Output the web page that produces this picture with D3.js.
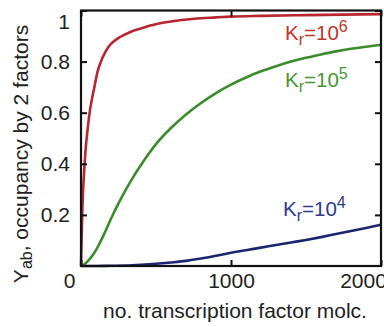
<!DOCTYPE html>
<html><head><meta charset="utf-8">
<script src="https://cdn.jsdelivr.net/npm/d3@7"></script>
<style>
body{margin:0;background:#fff;}
svg{display:block;font-family:"Liberation Sans",Arial,sans-serif;}
</style></head>
<body><svg id="c" width="384" height="327"></svg>
<script>
// data
const xRed = [0, 5, 10, 20, 30, 45, 60, 89, 110, 133, 160, 189, 220, 256, 300, 344, 400, 455, 520, 589, 670, 755, 900, 1000, 1200, 1500, 2000];
const yRed = [0, 0.13, 0.24, 0.36, 0.45, 0.54, 0.61, 0.70, 0.76, 0.80, 0.835, 0.862, 0.88, 0.895, 0.908, 0.92, 0.93, 0.94, 0.949, 0.956, 0.963, 0.968, 0.973, 0.976, 0.979, 0.982, 0.986];
const xGreen = [0, 25, 50, 75, 100, 125, 150, 200, 250, 300, 350, 400, 450, 500, 600, 700, 800, 900, 1000, 1100, 1200, 1300, 1400, 1500, 1600, 1700, 1800, 1900, 2000];
const yGreen = [0, 0.008, 0.022, 0.04, 0.062, 0.09, 0.12, 0.185, 0.245, 0.30, 0.35, 0.395, 0.438, 0.477, 0.54, 0.593, 0.638, 0.677, 0.71, 0.738, 0.762, 0.782, 0.80, 0.815, 0.828, 0.84, 0.85, 0.858, 0.866];
const xBlue = [0, 100, 200, 300, 400, 500, 600, 700, 800, 900, 1000, 1100, 1200, 1300, 1400, 1500, 1600, 1700, 1800, 1900, 2000];
const yBlue = [0, 0, 0.001, 0.002, 0.005, 0.009, 0.014, 0.02, 0.029, 0.04, 0.052, 0.062, 0.072, 0.082, 0.092, 0.102, 0.113, 0.125, 0.137, 0.149, 0.162];
const seriesExp = ["6", "5", "4"];
const xTicks = [0, 1000, 2000];
const yTicks = [0.2, 0.4, 0.6, 0.8, 1];
const xTitle = "no. transcription factor molc.";
const yTitle = "occupancy by 2 factors";

const svg = d3.select("#c");
const x = d3.scaleLinear().domain([0, 2000]).range([81, 381]);
const y = d3.scaleLinear().domain([0, 1]).range([266, 10.5]);

const series = [
  {xs: xRed, ys: yRed, color: "#b8262f", label: "#c0352c", exp: seriesExp[0], lx: 285, ly: 40},
  {xs: xGreen, ys: yGreen, color: "#3c8b2c", label: "#4a9634", exp: seriesExp[1], lx: 285, ly: 87},
  {xs: xBlue, ys: yBlue, color: "#1b2570", label: "#2d3a8e", exp: seriesExp[2], lx: 283, ly: 216}
];

const line = d3.line().x(d => x(d[0])).y(d => y(d[1])).curve(d3.curveMonotoneX);
series.forEach(s => {
  svg.append("path")
    .datum(s.xs.map((v, i) => [v, s.ys[i]]))
    .attr("d", line)
    .attr("fill", "none")
    .attr("stroke", s.color)
    .attr("stroke-width", 2.6);
});

// axes
const fs = 21;
const gx = svg.append("g").attr("transform", `translate(0,${y(0)})`)
  .call(d3.axisBottom(x).tickValues(xTicks).tickSizeInner(-6).tickSizeOuter(0).tickPadding(7).tickFormat(d3.format("d")));
const gxt = svg.append("g").attr("transform", `translate(0,${y(1)})`)
  .call(d3.axisTop(x).tickValues(xTicks).tickSizeInner(-6).tickSizeOuter(0).tickFormat(""));
const gy = svg.append("g").attr("transform", `translate(${x(0)},0)`)
  .call(d3.axisLeft(y).tickValues(yTicks).tickSizeInner(-6).tickSizeOuter(0).tickPadding(11).tickFormat(d => d === 1 ? "1" : d3.format(".1f")(d)));
const gyr = svg.append("g").attr("transform", `translate(${x(2000)},0)`)
  .call(d3.axisRight(y).tickValues(yTicks).tickSizeInner(-6).tickSizeOuter(0).tickFormat(""));

[gx, gxt, gy, gyr].forEach(g => {
  g.select(".domain").remove();
  g.selectAll("line").attr("stroke", "#111").attr("stroke-width", 2);
  g.selectAll("text").attr("font-size", fs).attr("fill", "#222").attr("font-family", "Liberation Sans, Arial, sans-serif");
});
gx.selectAll(".tick text").attr("dx", d => d === 0 ? -12 : d === 2000 ? -18 : 0);
gy.selectAll(".tick text").attr("dy", d => d === 1 ? "0.85em" : "0.32em");

// frame
svg.append("rect")
  .attr("x", x(0)).attr("y", y(1))
  .attr("width", x(2000) - x(0)).attr("height", y(0) - y(1))
  .attr("fill", "none").attr("stroke", "#111").attr("stroke-width", 2.2);

// series labels
series.forEach(s => {
  const t = svg.append("text").attr("x", s.lx).attr("y", s.ly)
    .attr("fill", s.label).attr("font-size", 20.5);
  t.append("tspan").text("K");
  t.append("tspan").text("r").attr("font-size", 16).attr("dy", 5);
  t.append("tspan").text("=10").attr("dy", -5);
  t.append("tspan").text(s.exp).attr("font-size", 16).attr("dy", -8);
});

// axis titles
svg.append("text").attr("x", 235).attr("y", 318).attr("text-anchor", "middle")
  .attr("font-size", fs).attr("fill", "#222").text(xTitle);
const yt = svg.append("text").attr("transform", "translate(28,154) rotate(-90)")
  .attr("text-anchor", "middle").attr("font-size", fs).attr("fill", "#222");
yt.append("tspan").text("Y");
yt.append("tspan").text("ab").attr("font-size", 16).attr("dy", 4);
yt.append("tspan").text(", " + yTitle).attr("dy", -4);
</script></body></html>
